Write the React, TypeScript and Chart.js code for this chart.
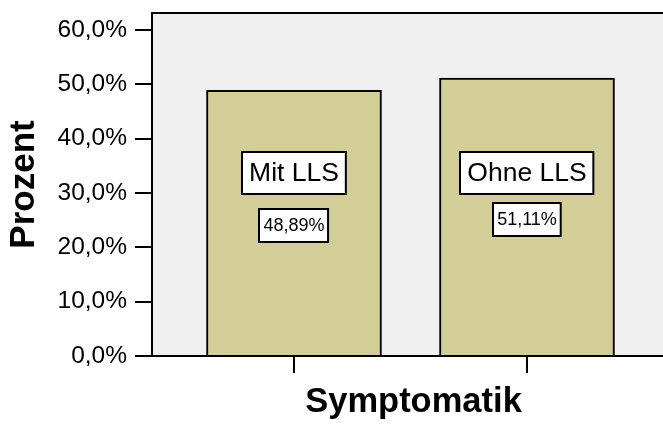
import React, { useEffect, useRef } from "react";
import { Chart, registerables } from "chart.js";

Chart.register(...registerables);

const CATEGORIES = ["Mit LLS", "Ohne LLS"];
const PERCENTS = [48.89, 51.11];
const Y_TICKS = [0, 10, 20, 30, 40, 50, 60];
const Y_MAX = 63.1;
const X_MIN = -0.6094;
const X_MAX = 1.6352;
const X_TITLE = "Symptomatik";
const Y_TITLE = "Prozent";
const CATEGORY_LABEL_LEVEL = 33.7;

const FONT = "'Liberation Sans', Arial, Helvetica, sans-serif";

const fmtPct = (v: number, d: number) => v.toFixed(d).replace(".", ",") + "%";

function drawBox(ctx: CanvasRenderingContext2D, text: string, cx: number, cy: number, size: number, padX: number, h: number) {
  ctx.save();
  ctx.font = `${size}px ${FONT}`;
  const w = ctx.measureText(text).width + padX * 2;
  const x = Math.round(cx - w / 2);
  const y = Math.round(cy - h / 2);
  ctx.fillStyle = "#ffffff";
  ctx.fillRect(x, y, w, h);
  ctx.lineWidth = 2;
  ctx.strokeStyle = "#000000";
  ctx.strokeRect(x, y, w, h);
  ctx.fillStyle = "#000000";
  ctx.textAlign = "center";
  ctx.textBaseline = "middle";
  ctx.fillText(text, cx, cy + 1);
  ctx.restore();
}

const plotPlugin = {
  id: "plotFrame",
  beforeDraw(chart: any) {
    const { ctx, chartArea: a } = chart;
    ctx.save();
    ctx.fillStyle = "#f0f0f0";
    ctx.fillRect(a.left, a.top, a.right - a.left, a.bottom - a.top);
    ctx.restore();
  },
  afterDraw(chart: any) {
    const { ctx, chartArea: a } = chart;
    ctx.save();
    ctx.strokeStyle = "#000000";
    ctx.lineWidth = 2;
    ctx.beginPath();
    ctx.moveTo(a.left, a.top);
    ctx.lineTo(a.right, a.top);
    ctx.stroke();
    ctx.restore();
  },
  afterDatasetsDraw(chart: any) {
    const ctx = chart.ctx;
    const meta = chart.getDatasetMeta(0);
    const ys = chart.scales.y;
    meta.data.forEach((bar: any, i: number) => {
      drawBox(ctx, CATEGORIES[i], bar.x, ys.getPixelForValue(CATEGORY_LABEL_LEVEL), 26.5, 7, 42);
      drawBox(ctx, fmtPct(PERCENTS[i], 2), bar.x, ys.getPixelForValue(PERCENTS[i] / 2) + 2, 18, 4, 33);
    });
  },
};

export default function App() {
  const ref = useRef<HTMLCanvasElement>(null);

  useEffect(() => {
    if (!ref.current) return;
    const chart = new Chart(ref.current, {
      type: "bar",
      data: {
        datasets: [
          {
            data: PERCENTS.map((v, i) => ({ x: i, y: v })),
            backgroundColor: "#d3ce98",
            borderColor: "#000000",
            borderWidth: 2,
            barThickness: 175,
          },
        ],
      },
      options: {
        responsive: false,
        animation: false,
        layout: { padding: { top: 13, left: 0, right: 0, bottom: 0 } },
        plugins: { legend: { display: false }, tooltip: { enabled: false } },
        scales: {
          x: {
            type: "linear",
            offset: false,
            min: X_MIN,
            max: X_MAX,
            afterBuildTicks: (s: any) => {
              s.ticks = CATEGORIES.map((_, i) => ({ value: i }));
            },
            afterFit: (s: any) => {
              s.height = 68;
              s.paddingLeft = 0;
              s.paddingRight = 0;
            },
            ticks: { callback: () => "", padding: 0 },
            grid: { offset: false, drawOnChartArea: false, drawTicks: true, tickLength: 17, color: "#000000", lineWidth: 2 },
            border: { display: true, color: "#000000", width: 2 },
            title: {
              display: true,
              text: X_TITLE,
              color: "#000000",
              font: { family: FONT, size: 34.5, weight: "bold" },
              padding: { top: 0, bottom: 1 },
            },
          },
          y: {
            min: 0,
            max: Y_MAX,
            afterBuildTicks: (s: any) => {
              s.ticks = Y_TICKS.map((v) => ({ value: v }));
            },
            afterFit: (s: any) => {
              s.width = 152;
              s.paddingTop = 0;
              s.paddingBottom = 0;
            },
            ticks: {
              callback: (v: any) => fmtPct(Number(v), 1),
              color: "#000000",
              font: { family: FONT, size: 24.5 },
              padding: 8,
            },
            grid: { drawOnChartArea: false, drawTicks: true, tickLength: 17, color: "#000000", lineWidth: 2 },
            border: { display: true, color: "#000000", width: 2 },
            title: {
              display: true,
              text: Y_TITLE,
              color: "#000000",
              font: { family: FONT, size: 35, weight: "bold" },
              padding: { top: 3, bottom: 0 },
            },
          },
        },
      },
      plugins: [plotPlugin],
    } as any);
    return () => chart.destroy();
  }, []);

  return (
    <div style={{ position: "absolute", left: 0, top: 0, width: 663, height: 424, overflow: "hidden" }}>
      <canvas ref={ref} width={675} height={424} style={{ display: "block" }} />
    </div>
  );
}
